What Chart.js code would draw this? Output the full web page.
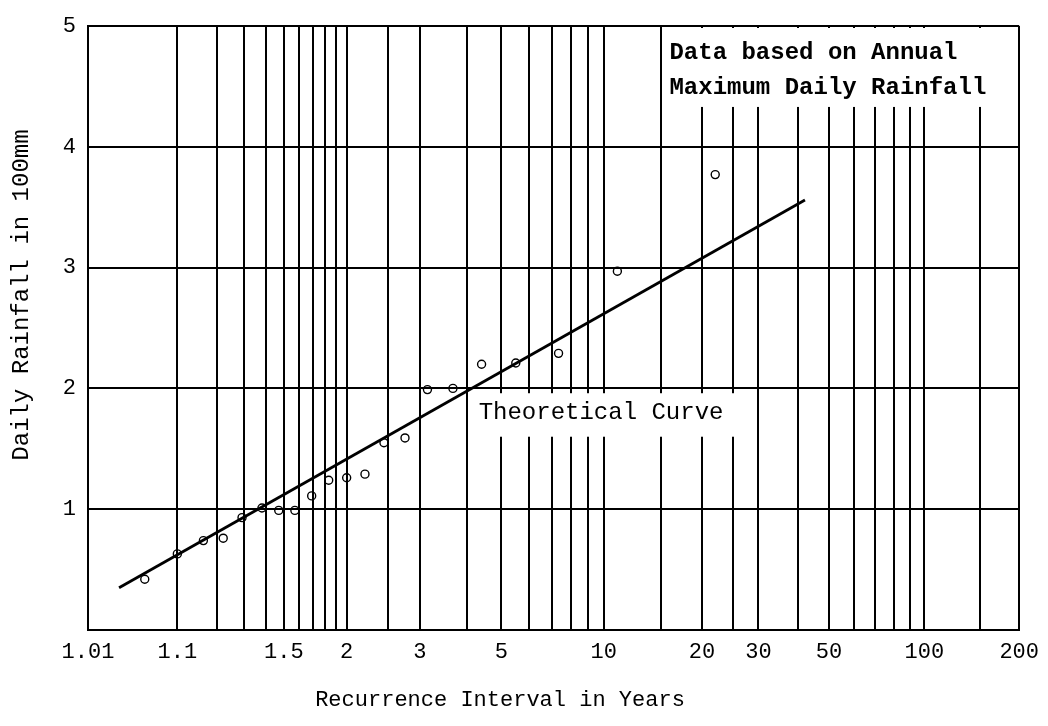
<!DOCTYPE html>
<html>
<head>
<meta charset="utf-8">
<script src="https://cdn.jsdelivr.net/npm/chart.js@4/dist/chart.umd.min.js"></script>
<style>
  html, body { margin: 0; padding: 0; background: #fff; }
  #wrap { width: 1048px; height: 726px; position: relative; }
</style>
</head>
<body>
<div id="wrap"><canvas id="chart"></canvas></div>
<script>
// recurrence intervals (years) that get a vertical rule
const gridYears  = [1.01, 1.1, 1.2, 1.3, 1.4, 1.5, 1.6, 1.7, 1.8, 1.9, 2, 2.5, 3, 4, 5, 6, 7, 8, 9, 10,
                    15, 20, 25, 30, 40, 50, 60, 70, 80, 90, 100, 150, 200];
const labelYears = [1.01, 1.1, 1.5, 2, 3, 5, 10, 20, 30, 50, 100, 200];
const rainTicks  = [1, 2, 3, 4, 5];

// observed annual maxima, rainfall in units of 100 mm
const obsYears = [1.05, 1.1, 1.16, 1.22, 1.29, 1.38, 1.47, 1.57, 1.69, 1.83, 2.0,
                  2.2, 2.44, 2.75, 3.14, 3.67, 4.4, 5.5, 7.33, 11, 22];
const obsRain  = [0.42, 0.63, 0.74, 0.76, 0.93, 1.01, 0.99, 0.99, 1.11, 1.24, 1.26,
                  1.29, 1.55, 1.59, 1.99, 2.0, 2.2, 2.21, 2.29, 2.97, 3.77];

// fitted line end points
const curveYears = [1.026, 42];
const curveRain  = [0.35, 3.56];

// Gumbel reduced variate for a return period T
const reduced = T => -Math.log(-Math.log(1 - 1 / T));

// probability-paper axis: positions are linear in the reduced variate
class GumbelScale extends Chart.Scale {
  constructor(cfg) {
    super(cfg);
    this._startValue = 0;
    this._valueRange = 1;
  }
  parse(raw) { return raw === null || raw === undefined ? null : +raw; }
  determineDataLimits() {
    this.min = this.options.min;
    this.max = this.options.max;
  }
  buildTicks() { return []; }
  configure() {
    super.configure();
    this._startValue = reduced(this.min);
    this._valueRange = reduced(this.max) - this._startValue;
  }
  getLabelForValue(v) { return String(v); }
  getPixelForValue(v) {
    return this.getPixelForDecimal((reduced(v) - this._startValue) / this._valueRange);
  }
  getValueForPixel(px) {
    const r = this._startValue + this.getDecimalForPixel(px) * this._valueRange;
    return 1 / (1 - Math.exp(-Math.exp(-r)));
  }
}
GumbelScale.id = 'gumbel';
GumbelScale.defaults = {};
Chart.register(GumbelScale);

const ink = '#000';
const mono = '"Liberation Mono", "DejaVu Sans Mono", monospace';

// notes, white panels and axis titles drawn on top of the grid
const overlay = {
  id: 'overlay',
  afterDatasetsDraw(chart) {
    const { ctx, chartArea: a, scales: { x, y } } = chart;
    ctx.save();
    ctx.fillStyle = '#fff';
    const nx = x.getPixelForValue(15) + 2;
    ctx.fillRect(nx, a.top + 2, a.right - 3 - nx, y.getPixelForValue(4.33) - a.top - 2);
    const tx = x.getPixelForValue(4) + 3;
    ctx.fillRect(tx, y.getPixelForValue(1.96), x.getPixelForValue(25) + 6 - tx,
                 y.getPixelForValue(1.6) - y.getPixelForValue(1.96));

    ctx.fillStyle = ink;
    ctx.textBaseline = 'middle';
    ctx.textAlign = 'left';
    ctx.font = 'bold 24px ' + mono;
    ctx.fillText('Data based on Annual', nx + 6, y.getPixelForValue(4.78));
    ctx.fillText('Maximum Daily Rainfall', nx + 6, y.getPixelForValue(4.49));
    ctx.font = '24px ' + mono;
    ctx.fillText('Theoretical Curve', x.getPixelForValue(4) + 12, y.getPixelForValue(1.8));

    ctx.textAlign = 'center';
    ctx.font = '22px ' + mono;
    ctx.fillText('Recurrence Interval in Years', a.left + 412, a.bottom + 70);
    ctx.translate(22, a.top + 269);
    ctx.rotate(-Math.PI / 2);
    ctx.font = '24px ' + mono;
    ctx.fillText('Daily Rainfall in 100mm', 0, 0);
    ctx.restore();
  }
};

const gridStyle = { color: ink, lineWidth: 2, drawTicks: false };

new Chart(document.getElementById('chart'), {
  type: 'scatter',
  data: {
    datasets: [
      {
        label: 'Theoretical Curve',
        data: curveYears.map((t, i) => ({ x: t, y: curveRain[i] })),
        showLine: true,
        borderColor: ink,
        borderWidth: 2.8,
        pointRadius: 0
      },
      {
        label: 'Observed',
        data: obsYears.map((t, i) => ({ x: t, y: obsRain[i] })),
        showLine: false,
        pointStyle: 'circle',
        pointRadius: 4,
        pointBorderWidth: 1.4,
        pointBorderColor: ink,
        pointBackgroundColor: 'rgba(0,0,0,0)'
      }
    ]
  },
  options: {
    responsive: true,
    maintainAspectRatio: false,
    animation: false,
    layout: { padding: { top: 26, right: 28, left: 0, bottom: 0 } },
    plugins: { legend: { display: false }, tooltip: { enabled: false } },
    scales: {
      x: {
        type: 'gumbel',
        min: 1.01,
        max: 200,
        grid: gridStyle,
        border: { color: ink, width: 2 },
        afterBuildTicks: s => { s.ticks = gridYears.map(v => ({ value: v })); },
        afterFit: s => { s.height = 96; },
        ticks: {
          autoSkip: false,
          maxRotation: 0,
          padding: 9,
          color: ink,
          font: { family: mono, size: 22 },
          callback: v => labelYears.includes(v) ? String(v) : ''
        }
      },
      y: {
        min: 0,
        max: 5,
        grid: gridStyle,
        border: { color: ink, width: 2 },
        afterBuildTicks: s => { s.ticks = [0].concat(rainTicks).map(v => ({ value: v })); },
        afterFit: s => { s.width = 88; },
        ticks: {
          padding: 12,
          color: ink,
          font: { family: mono, size: 22 },
          callback: v => rainTicks.includes(v) ? String(v) : ''
        }
      }
    }
  },
  plugins: [overlay]
});
</script>
</body>
</html>
